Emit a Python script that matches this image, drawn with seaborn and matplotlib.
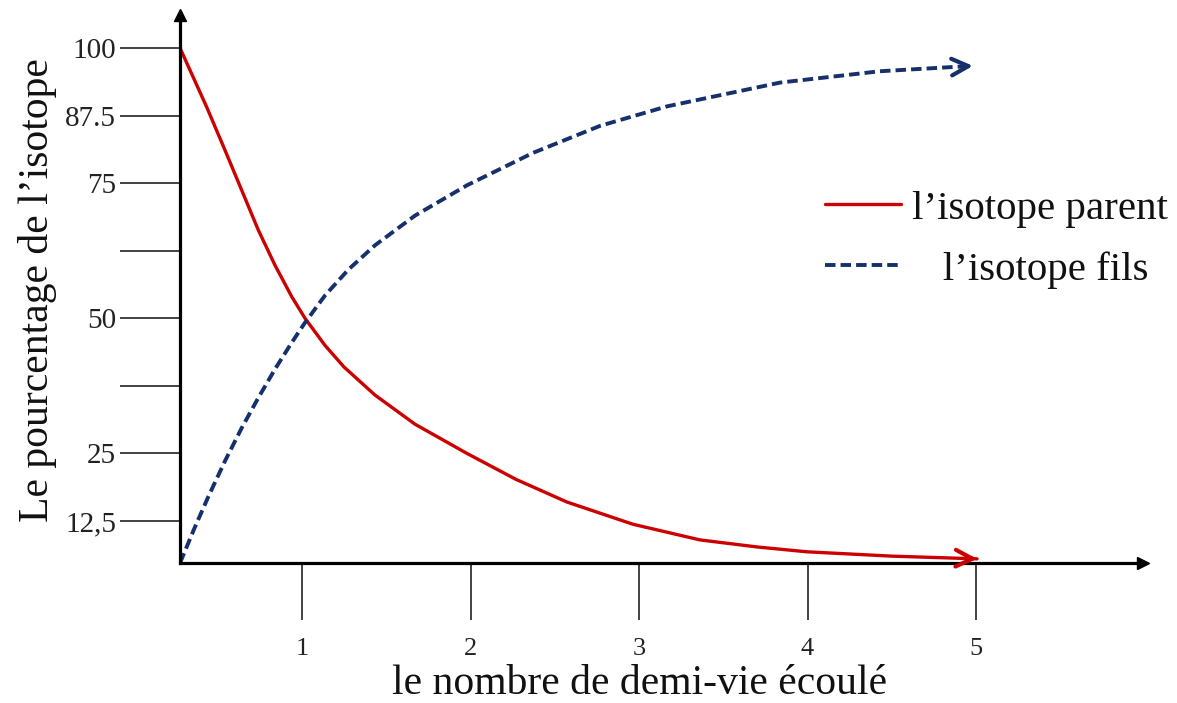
import matplotlib
matplotlib.use("Agg")
import matplotlib.pyplot as plt
import seaborn as sns
import pandas as pd

# ---- data ----
parent_x = [0.276, 0.434, 0.543, 0.642, 0.741, 0.840, 0.939, 1.018, 1.136, 1.249,
            1.433, 1.671, 1.979, 2.27, 2.573, 2.964, 3.362, 3.70, 3.997, 4.5, 5.006]
parent_y = [100.0, 89.1, 81.1, 73.7, 66.3, 59.8, 54.0, 50.0, 45.0, 41.0,
            35.8, 30.4, 25.0, 20.2, 16.0, 11.9, 9.0, 7.7, 6.8, 6.0, 5.5]

fils_x = [0.276, 0.365, 0.444, 0.543, 0.642, 0.741, 0.840, 0.939, 1.018, 1.136,
          1.275, 1.433, 1.671, 1.979, 2.371, 2.769, 3.166, 3.837, 4.430, 4.982]
fils_y = [4.73, 11.4, 17.0, 23.6, 29.7, 35.3, 40.6, 45.5, 49.2, 54.2,
          59.0, 63.5, 69.0, 74.6, 80.6, 85.6, 89.2, 93.6, 95.7, 96.7]

x_ticks = [1, 2, 3, 4, 5]
x_tick_labels = ["1", "2", "3", "4", "5"]
y_ticks = [12.5, 25, 37.5, 50, 62.5, 75, 87.5, 100]
y_tick_labels = ["12,5", "25", "", "50", "", "75", "87.5", "100"]

label_parent = "l\u2019isotope parent"
label_fils = "   l\u2019isotope fils"
x_label = "le nombre de demi-vie \u00e9coul\u00e9"
y_label = "Le pourcentage de l\u2019isotope"

# ---- style ----
sns.set_style("white")
plt.rcParams["font.family"] = ["Liberation Serif", "DejaVu Serif"]

W, H = 1177, 703
TOP = 15
fig = plt.figure(figsize=(W / 100, H / 100), dpi=100)
ax = fig.add_axes([180 / W, (H - 563) / H, (1143 - 180) / W, (563 - TOP) / H])

red = "#cc0000"
blue = "#15306b"

df_p = pd.DataFrame({"x": parent_x, "y": parent_y})
df_f = pd.DataFrame({"x": fils_x, "y": fils_y})

sns.lineplot(data=df_p, x="x", y="y", ax=ax, color=red, lw=2.4,
             label=label_parent, estimator=None, sort=False)
sns.lineplot(data=df_f, x="x", y="y", ax=ax, color=blue, lw=2.8,
             linestyle=(0, (2.7, 1.3)), label=label_fils,
             estimator=None, sort=False)

# arrow heads at the end of the curves
for xs, ys, c in [(parent_x, parent_y, red), (fils_x, fils_y, blue)]:
    dx = xs[-1] - xs[-2]
    dy = ys[-1] - ys[-2]
    f = 0.04 / dx
    ax.annotate("", xy=(xs[-1], ys[-1]), xytext=(xs[-1] - dx * f, ys[-1] - dy * f),
                arrowprops=dict(arrowstyle="->", color=c, lw=3.0,
                                mutation_scale=30, shrinkA=0, shrinkB=0),
                annotation_clip=False)

ax.set_xlim(0.276, 5.991)
ax.set_ylim(4.73, 100 + (48 - TOP) * 0.18499)

for s in ["top", "right"]:
    ax.spines[s].set_visible(False)
for s in ["left", "bottom"]:
    ax.spines[s].set_color("black")
    ax.spines[s].set_linewidth(2.3)

# axis arrow tips
ax.plot(1, 0, marker=">", color="black", ms=9, transform=ax.transAxes, clip_on=False)
ax.plot(0, 1, marker="^", color="black", ms=9, transform=ax.transAxes, clip_on=False)

ax.set_xticks(x_ticks)
ax.set_xticklabels(x_tick_labels)
ax.set_yticks(y_ticks)
ax.set_yticklabels(y_tick_labels)
ax.tick_params(axis="x", direction="out", length=41, width=1.2, pad=13,
               labelsize=19, colors="#222222", bottom=True)
ax.tick_params(axis="y", direction="out", length=43, width=1.2, pad=3,
               labelsize=21, colors="#222222", left=True)
gray_x = {3, 4}
for t, v in zip(ax.xaxis.get_major_ticks(), x_ticks):
    t.tick1line.set_color("#777777" if v in gray_x else "#222222")
gray_y = {75, 37.5}
for t, v in zip(ax.yaxis.get_major_ticks(), y_ticks):
    t.tick1line.set_color("#888888" if v in gray_y else "#222222")

AH = 563 - TOP
ax.set_xlabel(x_label, fontsize=30, color="#111111")
ax.xaxis.set_label_coords((640 - 180) / (1143 - 180), -(684 - 563) / AH)
ax.xaxis.label.set_va("center")
ax.set_ylabel(y_label, fontsize=30, color="#111111")
ax.yaxis.set_label_coords(-(180 - 38) / (1143 - 180), (563 - 290) / AH)
ax.yaxis.label.set_va("center")

ax.grid(False)
leg = ax.legend(loc="upper left", bbox_to_anchor=(825 / W, (H - 190) / H),
                bbox_transform=fig.transFigure, frameon=False, fontsize=29.5,
                handlelength=1.85, handletextpad=0.28, labelspacing=0.57,
                borderpad=0, borderaxespad=0)
for t in leg.get_texts():
    t.set_color("#111111")

fig.savefig("out.png", dpi=100, facecolor="white")
